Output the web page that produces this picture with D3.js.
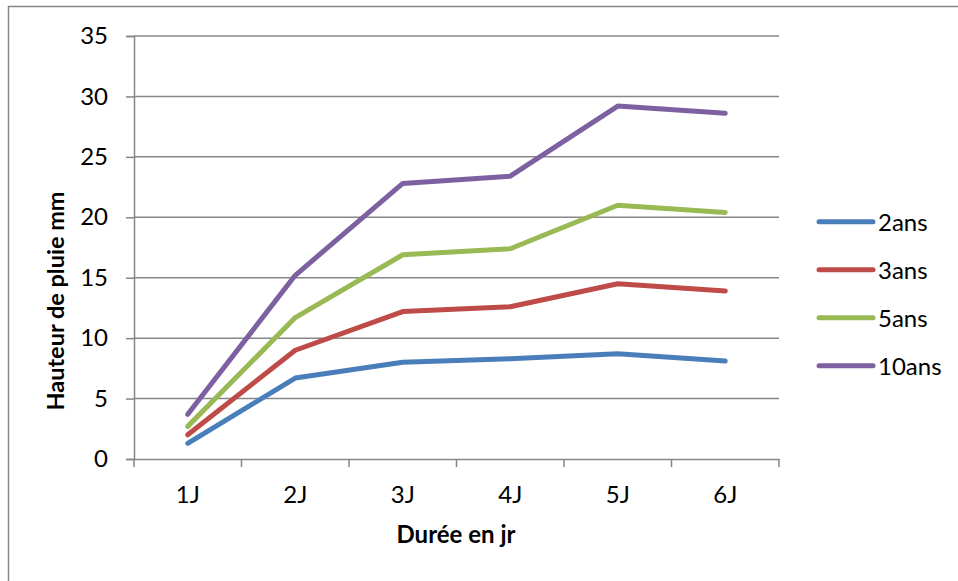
<!DOCTYPE html>
<html>
<head>
<meta charset="utf-8">
<script src="https://cdn.jsdelivr.net/npm/d3@7"></script>
<style>
  html, body { margin: 0; padding: 0; background: #fff; }
  svg { display: block; font-family: Lato, "Open Sans", sans-serif; }
</style>
</head>
<body>
<svg id="chart" width="958" height="581"></svg>
<script>
const categories = ["1J", "2J", "3J", "4J", "5J", "6J"];
const seriesNames = ["2ans", "3ans", "5ans", "10ans"];
const values2ans  = [1.3, 6.7, 8.0, 8.3, 8.7, 8.1];
const values3ans  = [2.0, 9.0, 12.2, 12.6, 14.5, 13.9];
const values5ans  = [2.7, 11.7, 16.9, 17.4, 21.0, 20.4];
const values10ans = [3.7, 15.2, 22.8, 23.4, 29.2, 28.6];
const yTicks = [0, 5, 10, 15, 20, 25, 30, 35];
const colors = ["#4a7ebb", "#be4b48", "#98b954", "#7d60a0"];

const series = [values2ans, values3ans, values5ans, values10ans].map((v, i) => ({
  name: seriesNames[i], values: v, color: colors[i]
}));

const svg = d3.select("#chart");
const pLeft = 134, pRight = 779, pTop = 36, pBottom = 459;
const FONT = "Lato, 'Open Sans', sans-serif";

svg.append("rect")
  .attr("x", 8.5).attr("y", 6.5).attr("width", 960).attr("height", 600)
  .attr("fill", "none").attr("stroke", "#868686").attr("stroke-width", 1.5);

const x = d3.scaleBand().domain(categories).range([pLeft, pRight]).padding(0);
const y = d3.scaleLinear().domain([0, 35]).range([pBottom, pTop]);

// gridlines
svg.append("g").selectAll("line").data(yTicks.filter(d => d > 0)).join("line")
  .attr("x1", pLeft).attr("x2", pRight)
  .attr("y1", d => y(d)).attr("y2", d => y(d))
  .attr("stroke", "#868686").attr("stroke-width", 1.5);

// y axis
const yAxis = svg.append("g").attr("transform", `translate(${pLeft},0)`)
  .call(d3.axisLeft(y).tickValues(yTicks).tickSize(8).tickPadding(18));
yAxis.select(".domain").attr("stroke", "#868686").attr("stroke-width", 1.5);
yAxis.selectAll(".tick line").attr("stroke", "#868686").attr("stroke-width", 1.5);
yAxis.selectAll(".tick text").attr("font-size", 24).attr("fill", "#000")
  .attr("font-family", FONT);

// x axis
const xAxis = svg.append("g").attr("transform", `translate(0,${pBottom})`)
  .call(d3.axisBottom(x).tickSize(0));
xAxis.select(".domain").attr("stroke", "#868686").attr("stroke-width", 1.5);
xAxis.selectAll(".tick text").attr("font-size", 24).attr("fill", "#000")
  .attr("font-family", FONT).attr("y", 36).attr("dy", "0.35em");
// boundary tick marks
const bounds = categories.map(c => x(c)).concat([x(categories[categories.length - 1]) + x.bandwidth()]);
svg.append("g").selectAll("line").data(bounds).join("line")
  .attr("x1", d => d).attr("x2", d => d)
  .attr("y1", pBottom).attr("y2", pBottom + 8)
  .attr("stroke", "#868686").attr("stroke-width", 1.5);

// lines
const line = d3.line()
  .x((d, i) => x(categories[i]) + x.bandwidth() / 2)
  .y(d => y(d));
svg.append("g").selectAll("path").data(series).join("path")
  .attr("d", d => line(d.values))
  .attr("fill", "none")
  .attr("stroke", d => d.color)
  .attr("stroke-width", 5)
  .attr("stroke-linecap", "round")
  .attr("stroke-linejoin", "round");

// axis titles
svg.append("text")
  .attr("x", 456).attr("y", 533)
  .attr("text-anchor", "middle").attr("dominant-baseline", "central")
  .attr("font-size", 24).attr("font-weight", "bold").attr("fill", "#000")
  .text("Durée en jr");
svg.append("text")
  .attr("transform", "translate(55,301) rotate(-90)")
  .attr("text-anchor", "middle").attr("dominant-baseline", "central")
  .attr("font-size", 23.5).attr("font-weight", "bold").attr("fill", "#000")
  .text("Hauteur de pluie mm");

// legend
const legend = svg.append("g").selectAll("g").data(series).join("g")
  .attr("transform", (d, i) => `translate(819,${221.7 + i * 48})`);
legend.append("line")
  .attr("x1", 0).attr("x2", 54).attr("y1", 0).attr("y2", 0)
  .attr("stroke", d => d.color).attr("stroke-width", 5).attr("stroke-linecap", "round");
legend.append("text")
  .attr("x", 59).attr("y", 0).attr("dominant-baseline", "central")
  .attr("font-size", 24).attr("fill", "#000")
  .text(d => d.name);
</script>
</body>
</html>
